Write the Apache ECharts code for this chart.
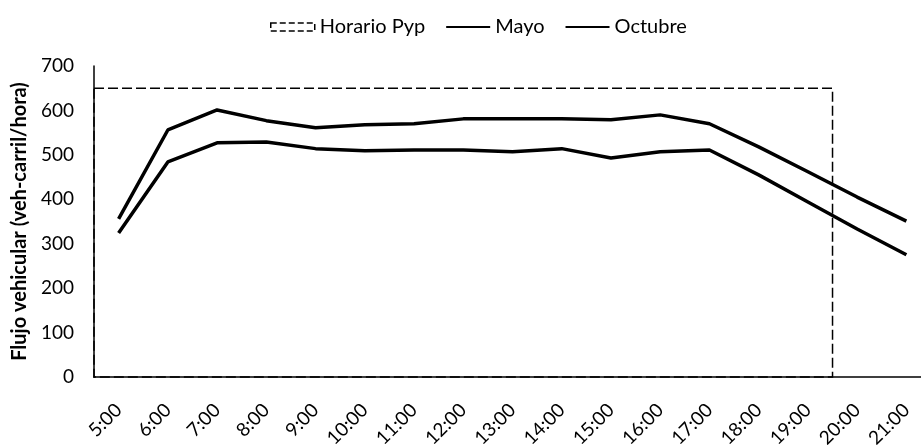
<!DOCTYPE html>
<html>
<head>
<meta charset="utf-8">
<title>Flujo vehicular</title>
<script src="https://cdn.jsdelivr.net/npm/echarts@6/dist/echarts.min.js"></script>
<style>
  html, body { margin: 0; padding: 0; background: #fff; }
  #chart { width: 921px; height: 446px; }
</style>
</head>
<body>
<div id="chart"></div>
<script>
// datos
const hours = ['5:00', '6:00', '7:00', '8:00', '9:00', '10:00', '11:00', '12:00', '13:00',
  '14:00', '15:00', '16:00', '17:00', '18:00', '19:00', '20:00', '21:00'];
const mayo = [356, 556, 601, 577, 561, 568, 570, 581, 581, 581, 579, 590, 570, 518, 462, 405, 351];
const octubre = [324, 484, 527, 529, 514, 509, 511, 511, 507, 514, 493, 507, 511, 455, 394, 333, 275];
// horario pico y placa: desde / hasta / valor
const pypRange = ['5:00', '19:00'];
const pypValue = 650;
const yTicks = [0, 100, 200, 300, 400, 500, 600, 700];

const FONT = 'Lato, "Liberation Sans Narrow", sans-serif';

var myChart = echarts.init(document.getElementById('chart'));

const option = {
  backgroundColor: '#fff',
  textStyle: { fontFamily: FONT, color: '#000' },
  legend: {
    top: 12,
    left: 265,
    itemWidth: 44,
    itemHeight: 8,
    itemGap: 20,
    textStyle: { fontFamily: FONT, fontSize: 20, color: '#000' },
    lineStyle: { width: 2 },
    data: [
      {
        name: 'Horario Pyp',
        icon: 'rect',
        itemStyle: { color: '#fff', borderColor: '#000', borderWidth: 1.5, borderType: 'dashed' }
      },
      { name: 'Mayo', itemStyle: { opacity: 0 } },
      { name: 'Octubre', itemStyle: { opacity: 0 } }
    ]
  },
  grid: {
    left: 94,
    right: -10,
    top: 66,
    bottom: 69,
    outerBoundsMode: 'none'
  },
  xAxis: {
    type: 'category',
    data: hours,
    boundaryGap: true,
    axisLine: { lineStyle: { color: '#000', width: 1.5 } },
    axisTick: { show: false },
    axisLabel: {
      interval: 0,
      rotate: 45,
      margin: 30,
      fontFamily: FONT,
      fontSize: 19,
      color: '#000'
    }
  },
  yAxis: {
    type: 'value',
    min: yTicks[0],
    max: yTicks[yTicks.length - 1],
    interval: 100,
    name: 'Flujo vehicular (veh-carril/hora)',
    nameLocation: 'middle',
    nameGap: 62,
    nameTextStyle: { fontFamily: FONT, fontSize: 20, fontWeight: 'bold', color: '#000' },
    axisLine: { show: true, lineStyle: { color: '#000', width: 1.5 } },
    axisTick: { show: false },
    splitLine: { show: false },
    axisLabel: { margin: 20, fontFamily: FONT, fontSize: 19, color: '#000' }
  },
  series: [
    {
      name: 'Horario Pyp',
      type: 'custom',
      encode: { x: [0, 1], y: 2 },
      data: [[hours.indexOf(pypRange[0]), hours.indexOf(pypRange[1]), pypValue]],
      itemStyle: { color: '#fff', borderColor: '#000' },
      renderItem: function (params, api) {
        const top = api.coord([api.value(0), api.value(2)]);
        const bottom = api.coord([api.value(1), 0]);
        const band = api.size([1, 0])[0];
        return {
          type: 'rect',
          shape: {
            x: top[0] - band / 2,
            y: top[1],
            width: bottom[0] - top[0] + band,
            height: bottom[1] - top[1]
          },
          style: { fill: 'none', stroke: '#000', lineWidth: 1.5, lineDash: [10, 4] }
        };
      }
    },
    {
      name: 'Mayo',
      type: 'line',
      data: mayo,
      symbol: 'none',
      lineStyle: { color: '#000', width: 3.5 },
      itemStyle: { color: '#000' }
    },
    {
      name: 'Octubre',
      type: 'line',
      data: octubre,
      symbol: 'none',
      lineStyle: { color: '#000', width: 3.5 },
      itemStyle: { color: '#000' }
    }
  ]
};

myChart.setOption(option);
</script>
</body>
</html>
